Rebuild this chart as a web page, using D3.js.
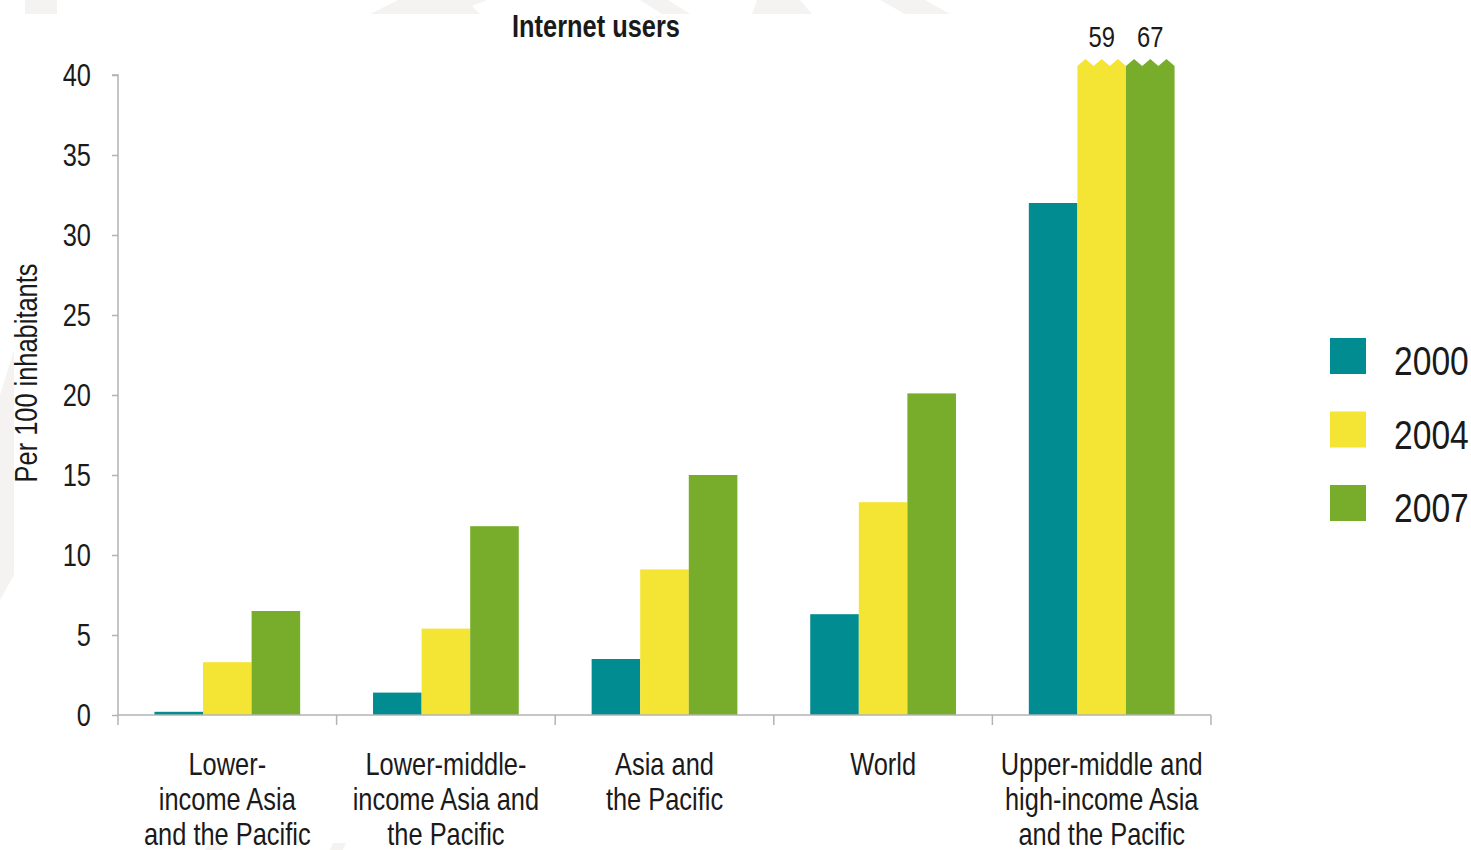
<!DOCTYPE html>
<html>
<head>
<meta charset="utf-8">
<script src="https://cdn.jsdelivr.net/npm/d3@7"></script>
<style>
  html, body { margin: 0; padding: 0; background: #fff; }
  svg { display: block; }
  text { font-family: "Liberation Sans", Arial, Helvetica, sans-serif; fill: #1a1a1a; }
</style>
</head>
<body>
<svg id="chart" width="1471" height="850"></svg>
<script>
// Internet users per 100 inhabitants, by region group
const categories = [
  ["Lower-", "income Asia", "and the Pacific"],
  ["Lower-middle-", "income Asia and", "the Pacific"],
  ["Asia and", "the Pacific"],
  ["World"],
  ["Upper-middle and", "high-income Asia", "and the Pacific"]
];
const years = ["2000", "2004", "2007"];
const values2000 = [0.2, 1.4, 3.5, 6.3, 32];
const values2004 = [3.3, 5.4, 9.1, 13.3, 59];
const values2007 = [6.5, 11.8, 15.0, 20.1, 67];
const yTicks = [0, 5, 10, 15, 20, 25, 30, 35, 40];
const colors = ["#008c91", "#f4e434", "#77ad2b"];

const series = [values2000, values2004, values2007];
const yMax = 40;
const narrow = 0.82; // horizontal squeeze for a condensed sans look

const svg = d3.select("#chart");

// faint background ornament
const wm = svg.append("g").attr("fill", "#f4f3f1");
const wmShapes = [
  [[25,0],[57,0],[57,14],[25,14]],
  [[398,0],[487,0],[472,6],[480,14],[370,14]],
  [[640,0],[668,0],[690,14],[662,14]],
  [[757,0],[800,0],[812,14],[752,14]],
  [[880,0],[925,0],[950,14],[905,14]],
  [[0,395],[14,350],[14,575],[0,600]],
  [[205,850],[210,843],[226,843],[222,850]],
  [[330,850],[333,843],[346,843],[343,850]]
];
wm.selectAll("polygon").data(wmShapes).join("polygon")
  .attr("points", d => d.map(p => p.join(",")).join(" "));

const x0 = d3.scaleBand().domain(d3.range(categories.length)).range([118, 1211]).paddingInner(0).paddingOuter(0);
const x1 = d3.scaleBand().domain(d3.range(years.length)).range([0, x0.bandwidth() * 2 / 3]);
const y = d3.scaleLinear().domain([0, yMax]).range([715, 75]);

// condensed text helper: places text at (x, y) squeezed horizontally
function label(parent, x, yy, str, size, anchor, extra) {
  const t = parent.append("text")
    .attr("transform", `translate(${x},${yy}) ${extra || ""} scale(${narrow},1)`)
    .attr("text-anchor", anchor || "start")
    .attr("font-size", size)
    .text(str);
  return t;
}

// bars
const groups = svg.append("g").selectAll("g").data(categories).join("g")
  .attr("transform", (d, i) => `translate(${x0(i) + x0.bandwidth() / 6},0)`);

groups.each(function(cat, ci) {
  const g = d3.select(this);
  series.forEach((vals, si) => {
    const v = vals[ci];
    const bx = x1(si), bw = x1.bandwidth();
    if (v <= yMax) {
      g.append("rect")
        .attr("x", bx).attr("y", y(v))
        .attr("width", bw).attr("height", y(0) - y(v))
        .attr("fill", colors[si]);
    } else {
      // bar runs off the scale: cut with a zigzag top and label its value
      const edge = y(yMax) - 9, peak = edge - 7, teeth = 3;
      const pts = [[bx, y(0)], [bx, edge]];
      for (let t = 0; t < teeth; t++) {
        pts.push([bx + (t + 0.5) * bw / teeth, peak]);
        pts.push([bx + (t + 1) * bw / teeth, edge]);
      }
      pts.push([bx + bw, y(0)]);
      g.append("polygon")
        .attr("points", pts.map(p => p.join(",")).join(" "))
        .attr("fill", colors[si]);
      label(g, bx + bw / 2, 47, String(v), 29, "middle");
    }
  });
});

// axes
const axisColor = "#b3b3b3";
const yAxis = svg.append("g").attr("transform", "translate(118,0)")
  .call(d3.axisLeft(y).tickValues(yTicks).tickSize(6).tickFormat(""));
yAxis.select(".domain").attr("stroke", axisColor).attr("stroke-width", 1.5).attr("d", `M-6,${y(yMax)}H0V${y(0)}`);
yAxis.selectAll(".tick line").attr("stroke", axisColor).attr("stroke-width", 1.5);
const yLab = svg.append("g");
yTicks.forEach(t => label(yLab, 91, y(t) + 11, String(t), 31, "end"));

const xAxis = svg.append("g").attr("transform", `translate(0,${y(0)})`);
xAxis.append("line").attr("x1", 118).attr("x2", 1211).attr("y1", 0).attr("y2", 0)
  .attr("stroke", axisColor).attr("stroke-width", 1.5);
const bounds = x0.domain().map(i => x0(i)).concat([x0.range()[1]]);
xAxis.selectAll("line.tk").data(bounds).join("line").attr("class", "tk")
  .attr("x1", d => d).attr("x2", d => d).attr("y1", 0).attr("y2", 10)
  .attr("stroke", axisColor).attr("stroke-width", 1.5);

// category labels
const catG = svg.append("g");
categories.forEach((lines, i) => {
  lines.forEach((l, k) => label(catG, x0(i) + x0.bandwidth() / 2, 775 + k * 35, l, 31, "middle"));
});

// title
label(svg, 596, 37, "Internet users", 31, "middle").attr("font-weight", "bold");

// y-axis title
label(svg, 37, 373, "Per 100 inhabitants", 31, "middle", "rotate(-90)");

// legend
const legend = svg.append("g").selectAll("g").data(years).join("g")
  .attr("transform", (d, i) => `translate(1330,${338 + i * 73.5})`);
legend.append("rect").attr("width", 36).attr("height", 36).attr("fill", (d, i) => colors[i]);
legend.each(function(d) { label(d3.select(this), 64, 37, d, 41, "start"); });
</script>
</body>
</html>
